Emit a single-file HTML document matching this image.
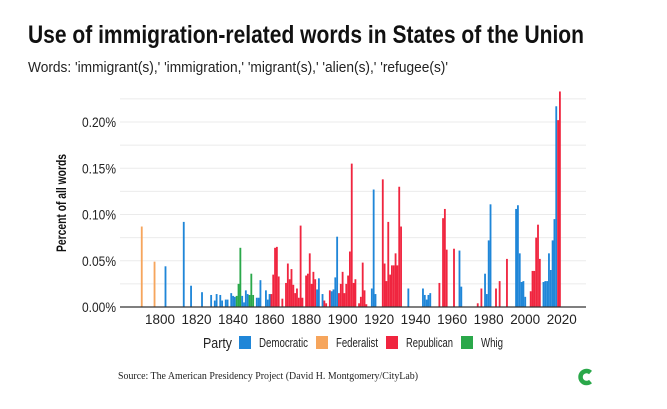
<!DOCTYPE html>
<html><head><meta charset="utf-8">
<style>
body{margin:0;background:#fff;width:667px;height:409px;overflow:hidden;font-family:"Liberation Sans Narrow","Liberation Sans",sans-serif;}
svg{position:absolute;left:0;top:0}
</style></head>
<body>
<svg id="chart" width="667" height="409">
<text x="28" y="43" font-size="25" font-weight="bold" fill="#111" textLength="556" lengthAdjust="spacingAndGlyphs">Use of immigration-related words in States of the Union</text>
<text x="28" y="72" font-size="14.5" fill="#222" textLength="420" lengthAdjust="spacingAndGlyphs">Words: 'immigrant(s),' 'immigration,' 'migrant(s),' 'alien(s),' 'refugee(s)'</text>
<text transform="translate(66,203) rotate(-90)" text-anchor="middle" font-size="14" font-weight="bold" fill="#111" textLength="98" lengthAdjust="spacingAndGlyphs">Percent of all words</text>
<g id="grid"></g><g id="bars"></g><g id="axes"></g>
<g font-size="13" fill="#222">
<text x="203" y="348" font-size="15" textLength="29" lengthAdjust="spacingAndGlyphs">Party</text>
<rect x="239" y="336" width="12" height="13" fill="#1f86d8"/>
<text x="259" y="347" textLength="49" lengthAdjust="spacingAndGlyphs">Democratic</text>
<rect x="316" y="336" width="12" height="13" fill="#f6a55c"/>
<text x="336" y="347" textLength="42" lengthAdjust="spacingAndGlyphs">Federalist</text>
<rect x="386" y="336" width="12" height="13" fill="#f0253f"/>
<text x="406" y="347" textLength="47" lengthAdjust="spacingAndGlyphs">Republican</text>
<rect x="461" y="336" width="12" height="13" fill="#2aa84a"/>
<text x="481" y="347" textLength="22" lengthAdjust="spacingAndGlyphs">Whig</text>
</g>
<text x="118" y="379" font-family="Liberation Serif,serif" font-size="10.5" fill="#222" textLength="300" lengthAdjust="spacingAndGlyphs">Source: The American Presidency Project (David H. Montgomery/CityLab)</text>
<path d="M590.5,372.5 A6,6 0 1 0 590.5,381.5" fill="none" stroke="#2aa84a" stroke-width="4.5"/>
</svg>
<script>
const years=[1790,1797,1803,1813,1817,1823,1828,1830,1831,1833,1834,1836,1837,1839,1840,1841,1842,1843,1844,1845,1846,1847,1848,1849,1850,1851,1853,1854,1855,1858,1859,1860,1861,1862,1863,1864,1865,1867,1869,1870,1871,1872,1873,1874,1875,1876,1877,1878,1880,1881,1882,1883,1884,1885,1886,1887,1889,1890,1891,1893,1894,1895,1896,1897,1898,1899,1900,1901,1902,1903,1904,1905,1906,1907,1909,1910,1911,1912,1913,1916,1917,1918,1922,1923,1924,1925,1926,1927,1928,1929,1930,1931,1932,1936,1944,1945,1946,1947,1948,1953,1955,1956,1957,1961,1964,1965,1974,1976,1978,1979,1980,1981,1984,1986,1990,1995,1996,1997,1998,1999,2000,2003,2004,2005,2006,2007,2008,2010,2011,2012,2013,2014,2015,2016,2017,2018,2019];
const values=[0.087,0.049,0.044,0.092,0.023,0.016,0.013,0.007,0.014,0.013,0.007,0.008,0.008,0.015,0.012,0.011,0.012,0.025,0.064,0.012,0.005,0.018,0.014,0.013,0.036,0.013,0.010,0.010,0.029,0.018,0.008,0.014,0.014,0.035,0.064,0.065,0.033,0.009,0.026,0.047,0.030,0.041,0.024,0.015,0.020,0.010,0.088,0.010,0.034,0.036,0.058,0.025,0.038,0.030,0.019,0.031,0.014,0.007,0.004,0.018,0.017,0.019,0.032,0.076,0.015,0.025,0.038,0.015,0.025,0.034,0.060,0.155,0.026,0.030,0.004,0.011,0.048,0.018,0.003,0.020,0.127,0.014,0.138,0.047,0.028,0.092,0.035,0.045,0.045,0.058,0.045,0.130,0.087,0.020,0.020,0.013,0.008,0.013,0.015,0.026,0.096,0.106,0.062,0.063,0.061,0.022,0.004,0.020,0.036,0.014,0.072,0.111,0.020,0.028,0.052,0.106,0.110,0.058,0.027,0.028,0.011,0.017,0.039,0.039,0.075,0.089,0.052,0.027,0.028,0.028,0.058,0.040,0.072,0.095,0.217,0.202,0.233];
const parties=["F","F","D","D","D","D","D","D","D","D","D","D","D","D","D","D","W","W","W","D","D","D","D","W","W","W","D","D","D","D","D","D","R","R","R","R","R","R","R","R","R","R","R","R","R","R","R","R","R","R","R","R","R","R","D","D","D","R","R","R","D","D","D","D","R","R","R","R","R","R","R","R","R","R","R","R","R","R","R","D","D","D","R","R","R","R","R","R","R","R","R","R","R","D","D","D","D","D","D","R","R","R","R","R","D","D","R","R","D","D","D","D","R","R","R","D","D","D","D","D","D","R","R","R","R","R","R","D","D","D","D","D","D","D","D","R","R","R"];
const yTicks=[0,0.05,0.10,0.15,0.20];
const xTicks=[1800,1820,1840,1860,1880,1900,1920,1940,1960,1980,2000,2020];
const colors={D:"#1f86d8",F:"#f6a55c",R:"#f0253f",W:"#2aa84a"};
const NS="http://www.w3.org/2000/svg";
const x0=120,x1=586,yBase=307,yTop=122;
function xs(y){return 160+(y-1800)*1.826;}
function ys(v){return yBase-(v/0.20)*(yBase-yTop);}
const grid=document.getElementById('grid'),bars=document.getElementById('bars'),axes=document.getElementById('axes');
for(let v=0.025;v<=0.2251;v+=0.025){const l=document.createElementNS(NS,'line');


l.setAttribute('x1',x0);l.setAttribute('x2',x1);l.setAttribute('y1',ys(v));l.setAttribute('y2',ys(v));l.setAttribute('stroke','#ebebeb');l.setAttribute('stroke-width','1');grid.appendChild(l);}
yTicks.forEach(v=>{const t=document.createElementNS(NS,'text');


t.setAttribute('x',116);t.setAttribute('y',ys(v)+5);t.setAttribute('text-anchor','end');t.setAttribute('font-size','14');t.setAttribute('textLength','34');t.setAttribute('lengthAdjust','spacingAndGlyphs');t.setAttribute('fill','#222');t.textContent=v.toFixed(2)+'%';axes.appendChild(t);});
xTicks.forEach(v=>{const t=document.createElementNS(NS,'text');


t.setAttribute('x',xs(v));t.setAttribute('y',324);t.setAttribute('text-anchor','middle');t.setAttribute('font-size','14');t.setAttribute('textLength','30');t.setAttribute('lengthAdjust','spacingAndGlyphs');t.setAttribute('fill','#222');t.textContent=v;axes.appendChild(t);});
years.forEach((yr,i)=>{const r=document.createElementNS(NS,'rect');


const y=ys(values[i]);r.setAttribute('x',xs(yr)-0.9);r.setAttribute('width',1.83);r.setAttribute('y',y);r.setAttribute('height',yBase-y);r.setAttribute('fill',colors[parties[i]]);bars.appendChild(r);});
const b=document.createElementNS(NS,'line');


b.setAttribute('x1',x0);b.setAttribute('x2',x1);b.setAttribute('y1',yBase);b.setAttribute('y2',yBase);b.setAttribute('stroke','#333');b.setAttribute('stroke-width','1.2');axes.appendChild(b);
</script>
</body></html>
